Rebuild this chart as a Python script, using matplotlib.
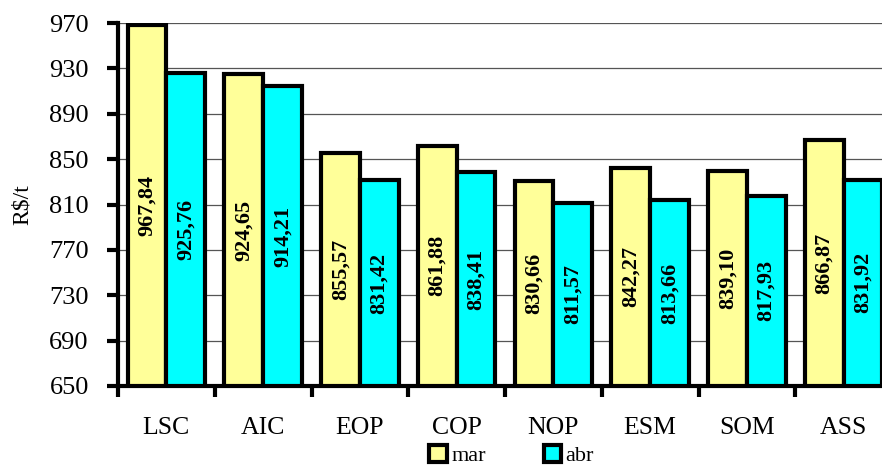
import numpy as np
import matplotlib.pyplot as plt
from matplotlib.patches import Patch

categories = ["LSC", "AIC", "EOP", "COP", "NOP", "ESM", "SOM", "ASS"]
mar = [967.84, 924.65, 855.57, 861.88, 830.66, 842.27, 839.10, 866.87]
abr = [925.76, 914.21, 831.42, 838.41, 811.57, 813.66, 817.93, 831.92]
yticks = [650, 690, 730, 770, 810, 850, 890, 930, 970]

plt.rcParams['font.family'] = ['Liberation Serif', 'DejaVu Serif']

fig = plt.figure(figsize=(8.82, 4.65), dpi=100)
ax = fig.add_axes([0.1338, 0.1699, 0.8776, 0.7806])

x = np.arange(len(categories))
w = 0.4
base = yticks[0]
ax.bar(x - w / 2, np.array(mar) - base, w, bottom=base, color="#FFFF99",
       edgecolor="black", linewidth=3, zorder=3)
ax.bar(x + w / 2, np.array(abr) - base, w, bottom=base, color="#00FFFF",
       edgecolor="black", linewidth=3, zorder=3)

def fmt(v):
    return f"{v:.2f}".replace(".", ",")

# value labels, rotated, in the middle of each bar
for xs, vals in ((x - w / 2, mar), (x + w / 2, abr)):
    for xi, v in zip(xs, vals):
        ax.text(xi, (base + v) / 2, fmt(v), rotation=90, ha="center", va="center",
                fontsize=16, fontweight="bold", zorder=4)

ax.set_xlim(-0.5, len(categories) - 0.5)
ax.set_ylim(650, 970)
ax.set_yticks(yticks)
ax.set_yticklabels([str(t) for t in yticks], fontsize=19)
ax.tick_params(axis="y", direction="out", length=8, width=3, pad=13)

ax.set_xticks(x)
ax.set_xticklabels(categories, fontsize=18.5)
ax.tick_params(axis="x", which="major", length=0, pad=22)
ax.set_xticks(np.arange(len(categories) + 1) - 0.5, minor=True)
ax.tick_params(axis="x", which="minor", direction="out", length=8, width=3)

ax.yaxis.grid(True, color="#555555", linewidth=0.9, zorder=0)
ax.set_axisbelow(True)
for s in ("top", "right"):
    ax.spines[s].set_visible(False)
ax.spines["left"].set_linewidth(3)
ax.spines["bottom"].set_linewidth(3)

ax.set_ylabel("R$/t", fontsize=17, labelpad=12)

handles = [Patch(facecolor="#FFFF99", edgecolor="black", linewidth=3, label="mar"),
           Patch(facecolor="#00FFFF", edgecolor="black", linewidth=3, label="abr")]
fig.legend(handles=handles, loc="center", bbox_to_anchor=(0.58, 0.02), ncol=2,
           frameon=False, fontsize=16, handlelength=0.8, handleheight=0.8,
           handletextpad=0.2, columnspacing=2.6)

fig.savefig("out.png", dpi=100)
